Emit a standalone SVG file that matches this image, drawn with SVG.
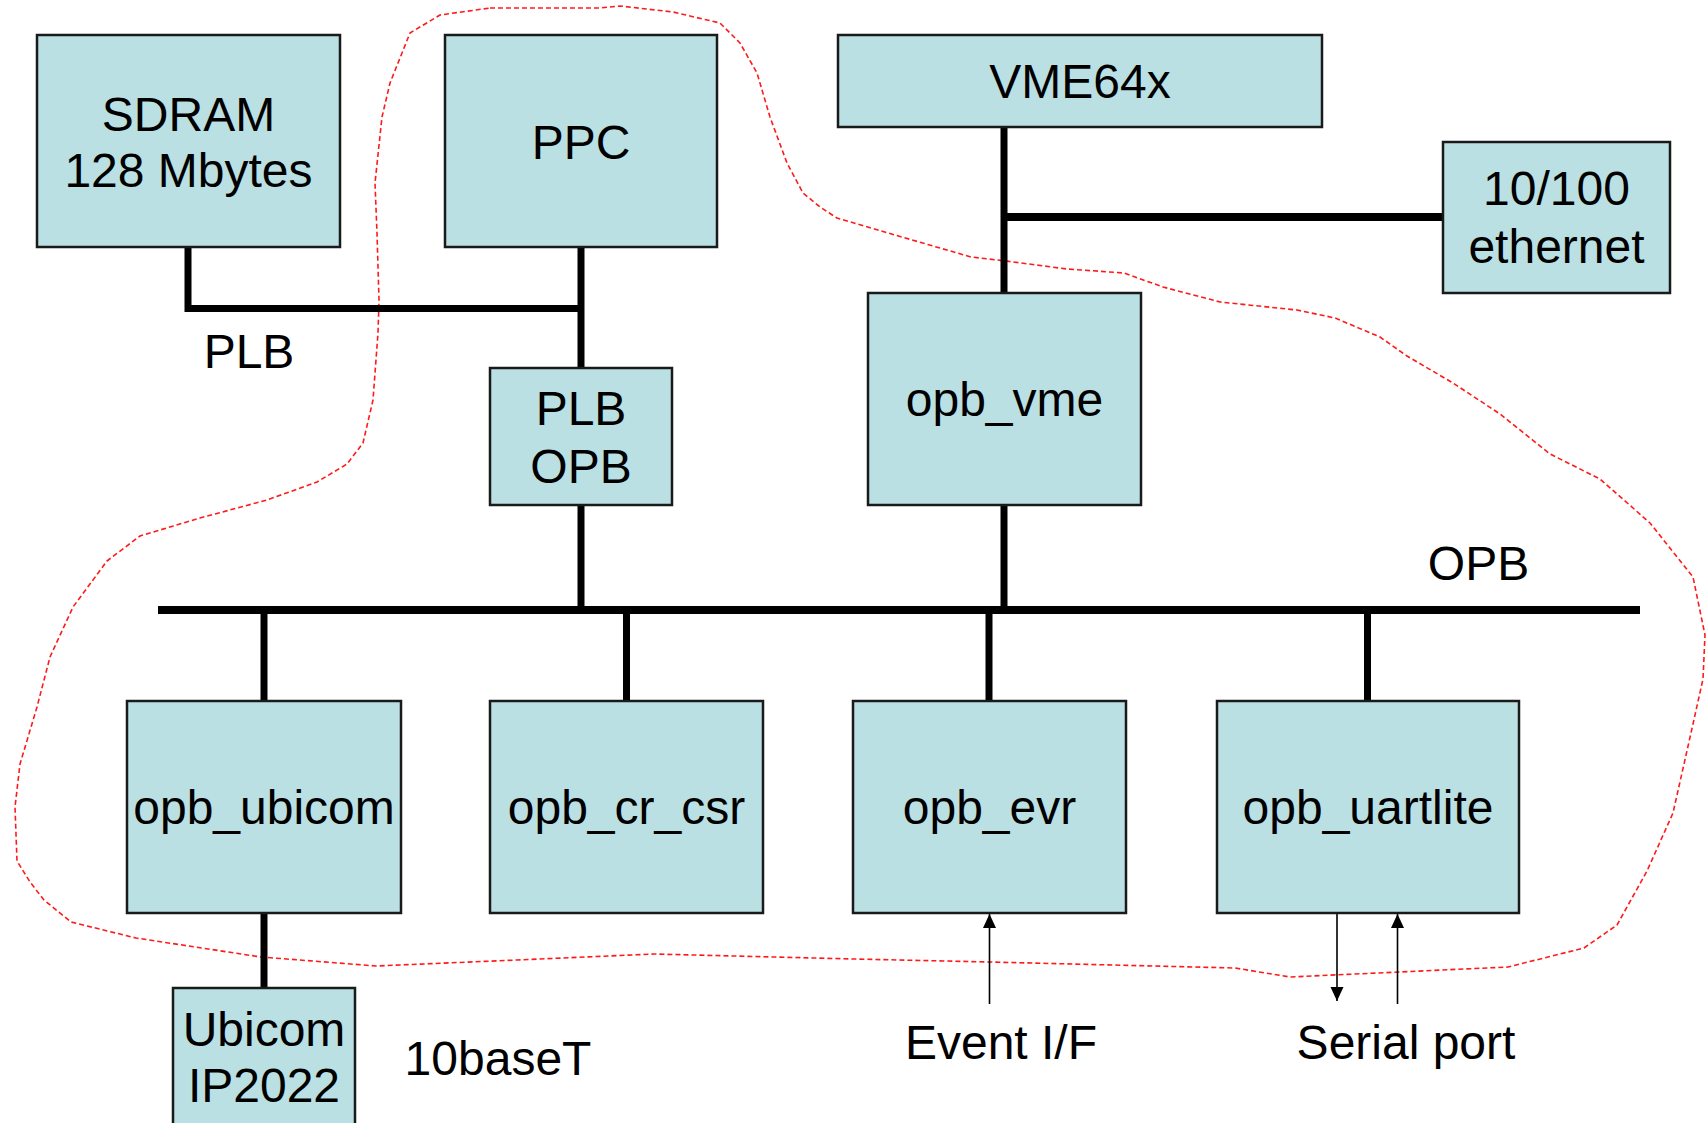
<svg xmlns="http://www.w3.org/2000/svg" width="1708" height="1123" viewBox="0 0 1708 1123">
  <style>
    .box { fill: #bae0e3; stroke: #1a1a1a; stroke-width: 2.5; }
    .lbl { font-family: "Liberation Sans", Arial, sans-serif; font-size: 48px; fill: #000; text-anchor: middle; }
    .bus { stroke: #000; stroke-width: 8; fill: none; }
    .tap { stroke: #000; stroke-width: 7; fill: none; }
    .sig { stroke: #000; stroke-width: 1.6; fill: none; }
    .zone { fill: none; stroke: #ff1a1a; stroke-width: 1.6; stroke-dasharray: 5 3; stroke-linejoin: round; }
  </style>
  <defs>
    <marker id="head" markerUnits="userSpaceOnUse" markerWidth="14" markerHeight="16" refX="14" refY="6.5" orient="auto">
      <path d="M0,0 L14,6.5 L0,13 Z" fill="#000"/>
    </marker>
  </defs>
  <rect width="1708" height="1123" fill="#fff"/>

  <!-- FPGA boundary -->
  <path id="fpga-zone" class="zone" d="M490,8 L600,8 L620,6 L673,12 L720,23 L740,43 L757,73 L770,117 L787,163 L803,193 L820,207 L837,218 L895,235 L971,257 L1006,261 L1067,269 L1124,273 L1163,287 L1220,302 L1297,310 L1335,318 L1380,337 L1407,356 L1453,383 L1500,414 L1550,454 L1600,479 L1650,523 L1693,577 L1705,635 L1703,679 L1693,724 L1673,813 L1647,871 L1617,925 L1584,948 L1508,967 L1399,972 L1290,977 L1235,968 L990,962 L854,959 L654,954 L517,960 L376,966 L261,957 L136,938 L71,922 L44,900 L30,882 L17,861 L15,807 L20,764 L37,707 L50,657 L73,607 L107,561 L140,536 L200,518 L267,500 L317,482 L347,464 L363,443 L373,400 L378,333 L379,300 L377,233 L375,183 L382,117 L390,83 L410,33 L440,15 Z"/>

  <!-- buses and links -->
  <g id="connectors">
    <path class="tap" d="M188,247 V308.5 H581"/>
    <path class="tap" d="M581,247 V368"/>
    <path class="tap" d="M1004,127 V293"/>
    <path class="bus" d="M1004,217 H1443"/>
    <path class="tap" d="M581,505 V610"/>
    <path class="tap" d="M1004,505 V610"/>
    <path class="bus" d="M158,610 H1640"/>
    <path class="tap" d="M264,610 V701"/>
    <path class="tap" d="M626.5,610 V701"/>
    <path class="tap" d="M989,610 V701"/>
    <path class="tap" d="M1367.5,610 V701"/>
    <path class="tap" d="M264,913 V988"/>
    <path class="sig" d="M989.5,1004 V914" marker-end="url(#head)"/>
    <path class="sig" d="M1337,914 V1001" marker-end="url(#head)"/>
    <path class="sig" d="M1397.5,1004 V914" marker-end="url(#head)"/>
  </g>

  <g id="sdram">
    <rect class="box" x="37" y="35" width="303" height="212"/>
    <text class="lbl" x="188.5" y="131">SDRAM</text>
    <text class="lbl" x="188.5" y="187">128 Mbytes</text>
  </g>
  <g id="ppc">
    <rect class="box" x="445" y="35" width="272" height="212"/>
    <text class="lbl" x="581" y="159">PPC</text>
  </g>
  <g id="vme64x">
    <rect class="box" x="838" y="35" width="484" height="92"/>
    <text class="lbl" x="1080" y="98">VME64x</text>
  </g>
  <g id="ethernet">
    <rect class="box" x="1443" y="142" width="227" height="151"/>
    <text class="lbl" x="1556.5" y="205">10/100</text>
    <text class="lbl" x="1556.5" y="263">ethernet</text>
  </g>
  <g id="opb-vme">
    <rect class="box" x="868" y="293" width="273" height="212"/>
    <text class="lbl" x="1004.5" y="416">opb_vme</text>
  </g>
  <g id="plb-opb">
    <rect class="box" x="490" y="368" width="182" height="137"/>
    <text class="lbl" x="581" y="425">PLB</text>
    <text class="lbl" x="581" y="483">OPB</text>
  </g>
  <g id="opb-ubicom">
    <rect class="box" x="127" y="701" width="274" height="212"/>
    <text class="lbl" x="264" y="824">opb_ubicom</text>
  </g>
  <g id="opb-cr-csr">
    <rect class="box" x="490" y="701" width="273" height="212"/>
    <text class="lbl" x="626.5" y="824">opb_cr_csr</text>
  </g>
  <g id="opb-evr">
    <rect class="box" x="853" y="701" width="273" height="212"/>
    <text class="lbl" x="989.5" y="824">opb_evr</text>
  </g>
  <g id="opb-uartlite">
    <rect class="box" x="1217" y="701" width="302" height="212"/>
    <text class="lbl" x="1368" y="824">opb_uartlite</text>
  </g>
  <g id="ubicom-ip2022">
    <rect class="box" x="173" y="988" width="182" height="150"/>
    <text class="lbl" x="264" y="1046">Ubicom</text>
    <text class="lbl" x="264" y="1102">IP2022</text>
  </g>

  <!-- bus and port labels -->
  <g id="labels">
    <text class="lbl" x="249" y="368">PLB</text>
    <text class="lbl" x="1478.5" y="580">OPB</text>
    <text class="lbl" x="498" y="1075">10baseT</text>
    <text class="lbl" x="1001" y="1059">Event I/F</text>
    <text class="lbl" x="1406" y="1059">Serial port</text>
  </g>
</svg>
